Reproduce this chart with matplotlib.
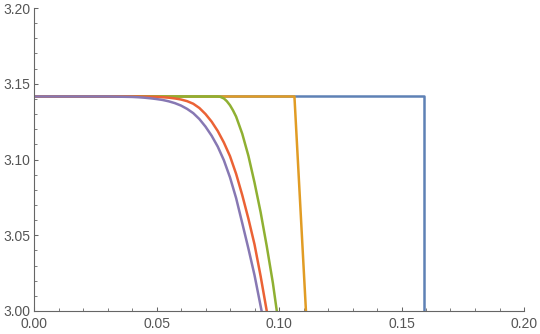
import matplotlib
matplotlib.use("Agg")
import matplotlib.pyplot as plt
from matplotlib.ticker import MultipleLocator, FormatStrFormatter

PI = 3.14159

# Series (x, y)
blue_x = [0.0, 0.1592, 0.1592]
blue_y = [PI, PI, 2.95]

orange_x = [0.0, 0.1063, 0.1110, 0.1120]
orange_y = [PI, PI, 3.0, 2.97]

green_x = [0.0, 0.0750, 0.0760, 0.0775, 0.0787, 0.0800, 0.0812, 0.0825,
           0.0850, 0.0875, 0.0900, 0.0925, 0.0950, 0.0975, 0.0991, 0.1000]
green_y = [PI, PI, 3.1414, 3.1403, 3.1385, 3.1358, 3.1325, 3.1283,
           3.1170, 3.1025, 3.0848, 3.0652, 3.0428, 3.0185, 3.0000, 2.9890]

red_x = [0.0, 0.040, 0.045, 0.050, 0.0525, 0.055, 0.0575, 0.060, 0.0625,
         0.065, 0.0675, 0.070, 0.0725, 0.075, 0.0775, 0.080, 0.0825, 0.085,
         0.0875, 0.090, 0.0925, 0.095, 0.096]
red_y = [PI, PI, 3.1415, 3.1413, 3.1411, 3.1408, 3.1403, 3.1396, 3.1385,
         3.1368, 3.1340, 3.1300, 3.1250, 3.1188, 3.1112, 3.1022, 3.0905, 3.0765,
         3.0610, 3.0440, 3.0230, 3.0000, 2.9900]

purple_x = [0.0, 0.030, 0.040, 0.0425, 0.045, 0.0475, 0.050, 0.0525, 0.055,
            0.0575, 0.060, 0.0625, 0.065, 0.0675, 0.070, 0.0725, 0.075, 0.0775,
            0.080, 0.0825, 0.085, 0.0875, 0.090, 0.0929, 0.094]
purple_y = [PI, PI, 3.1413, 3.1411, 3.1408, 3.1404, 3.1399, 3.1393, 3.1384,
            3.1372, 3.1356, 3.1334, 3.1306, 3.1267, 3.1217, 3.1157, 3.1085, 3.0995,
            3.0882, 3.0745, 3.0580, 3.0413, 3.0237, 3.0000, 2.9900]

series = [
    (blue_x, blue_y, "#5E81B5"),
    (orange_x, orange_y, "#E19C24"),
    (green_x, green_y, "#8FB032"),
    (red_x, red_y, "#EB6235"),
    (purple_x, purple_y, "#8778B3"),
]

plt.rcParams['font.family'] = ['Liberation Sans', 'DejaVu Sans']

fig = plt.figure(figsize=(5.4, 3.34), dpi=100)
ax = fig.add_axes([34/540, 23/334, 490/540, 303/334])

for xs, ys, c in series:
    ax.plot(xs, ys, color=c, lw=1.8, solid_joinstyle='round')

ax.set_xlim(0, 0.2)
ax.set_ylim(3.0, 3.2)
ax.xaxis.set_major_locator(MultipleLocator(0.05))
ax.xaxis.set_minor_locator(MultipleLocator(0.01))
ax.yaxis.set_major_locator(MultipleLocator(0.05))
ax.yaxis.set_minor_locator(MultipleLocator(0.01))
ax.xaxis.set_major_formatter(FormatStrFormatter('%.2f'))
ax.yaxis.set_major_formatter(FormatStrFormatter('%.2f'))

axc = '#666666'
for s in ['top', 'right']:
    ax.spines[s].set_visible(False)
for s in ['left', 'bottom']:
    ax.spines[s].set_color(axc)
    ax.spines[s].set_linewidth(0.8)

ax.tick_params(which='major', direction='in', length=3.2, width=0.75,
               color=axc, labelcolor='#555555', labelsize=10)
ax.tick_params(which='minor', direction='in', length=2, width=0.6, color=axc)
ax.tick_params(axis='x', which='major', pad=4)
ax.tick_params(axis='y', which='major', pad=2.5)

fig.savefig("out.png", dpi=100)
